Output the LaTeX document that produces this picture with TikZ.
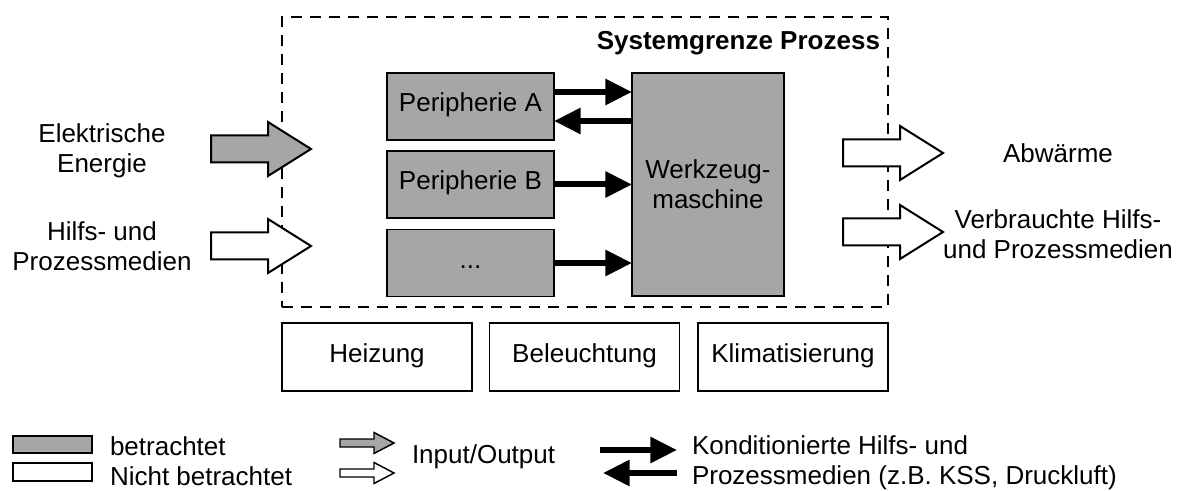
\documentclass[tikz,border=0pt]{standalone}
\usepackage{fontspec}
\setmainfont{Liberation Sans}
\usetikzlibrary{arrows.meta}
\definecolor{boxgray}{RGB}{166,166,166}

\tikzset{
  % wide hollow/filled block arrow for inputs and outputs (origin at tail centre)
  bigarrow/.pic={
    \path[pic actions] (0,-13.5) -- (57,-13.5) -- (57,-27) -- (100,0)
      -- (57,27) -- (57,13.5) -- (0,13.5) -- cycle;
  },
  % small version used in the legend
  smallarrow/.pic={
    \path[pic actions] (0,-4) -- (34,-4) -- (34,-10.5) -- (54,0)
      -- (34,10.5) -- (34,4) -- (0,4) -- cycle;
  },
}

\begin{document}
\begin{tikzpicture}[x=0.75pt,y=-0.75pt,
  every node/.style={inner sep=0pt, outer sep=0pt,
    font=\fontsize{19.5pt}{22.2pt}\selectfont},
  unit/.style={draw, line width=1.3pt, fill=boxgray,
    text height=0.8em, text depth=0pt},
  periph/.style={unit, minimum width=125.25pt, minimum height=50.25pt},
  infra/.style={draw, line width=1.3pt, fill=white,
    minimum width=142.5pt, minimum height=51pt,
    text height=0.8em, text depth=0pt},
  boundary/.style={draw, line width=1.5pt,
    dash pattern=on 8.25pt off 6pt,
    minimum width=454.5pt, minimum height=217.5pt},
  conn/.style={line width=4.5pt,
    -{Triangle[length=20pt, width=18.75pt]}},
  flow/.style={draw, line width=1.5pt, line join=miter},
  flowsmall/.style={draw, line width=1.1pt, line join=miter},
]
\useasboundingbox (0,0) rectangle (1184,491);

% system boundary
\node[boundary] (sys) at (585,162) {};
\node[anchor=base east, font=\fontsize{19.5pt}{22.2pt}\selectfont\bfseries]
  (syslabel) at (880,50) {Systemgrenze Prozess};

% peripherals and machine tool
\node[periph] (pa) at (470.5,106.5) {Peripherie A};
\node[periph] (pb) at (470.5,184.5) {Peripherie B};
\node[periph] (pc) at (470.5,263) {...};
\node[draw, line width=1.3pt, fill=boxgray, align=center,
  minimum width=114pt, minimum height=167.25pt]
  (wm) at (708,184.5) {Werkzeug-\\maschine};

% conditioned media between peripherals and machine
\coordinate (a1) at ([yshift=10.875pt]pa.east);
\coordinate (a2) at ([yshift=-10.875pt]pa.east);
\draw[conn] (a1) -- (a1 -| wm.west);
\draw[conn] (a2 -| wm.west) -- (a2);
\draw[conn] (pb.east) -- (pb.east -| wm.west);
\draw[conn] (pc.east) -- (pc.east -| wm.west);

% building services
\node[infra] (heiz) at (377,357) {Heizung};
\node[infra] (bel) at (584.5,357) {Beleuchtung};
\node[infra] (klima) at (793,357) {Klimatisierung};

% inputs
\node[align=center] (lelek) at (102,151) {Elektrische\\Energie};
\node[align=center] (lhilf) at (102,246) {Hilfs- und\\Prozessmedien};
\pic[flow, fill=boxgray] at (211,149) {bigarrow};
\pic[flow, fill=white] at (211,246) {bigarrow};

% outputs
\pic[flow, fill=white] at (843,153) {bigarrow};
\pic[flow, fill=white] at (843,232) {bigarrow};
\node[anchor=base] (rabw) at (1058,163) {Abwärme};
\node[align=center] (rverb) at (1058,234) {Verbrauchte Hilfs-\\und Prozessmedien};

% legend
\node[draw, line width=1.3pt, fill=boxgray, minimum width=59.25pt,
  minimum height=12.75pt] (lg1) at (52.5,444.5) {};
\node[draw, line width=1.3pt, fill=white, minimum width=59.25pt,
  minimum height=13.5pt] (lg2) at (52.5,472) {};
\node[align=left, anchor=west] (lgt1) at (110,461) {betrachtet\\Nicht betrachtet};

\pic[flowsmall, fill=boxgray] at (340,443) {smallarrow};
\pic[flowsmall, fill=white] at (340,473) {smallarrow};
\node[anchor=base west] (lgt2) at (412,463) {Input/Output};

\coordinate (k1) at (600,450);
\coordinate (k2) at (677,450);
\coordinate (k3) at (677,473);
\coordinate (k4) at (603,473);
\draw[conn] (k1) -- (k2);
\draw[conn] (k3) -- (k4);
\node[align=left, anchor=west] (lgt3) at (692,463)
  {Konditionierte Hilfs- und\\Prozessmedien (z.B. KSS, Druckluft)};
\end{tikzpicture}
\end{document}
